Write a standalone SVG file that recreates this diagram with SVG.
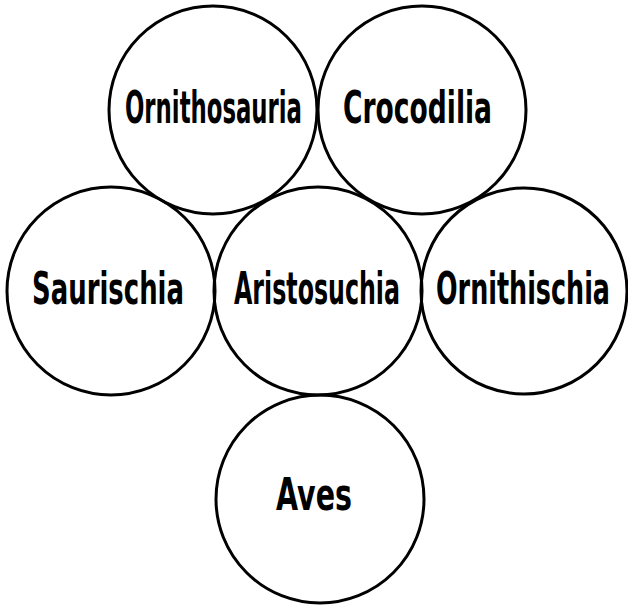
<svg xmlns="http://www.w3.org/2000/svg" width="628" height="605" viewBox="0 0 628 605">
<style>
.n circle{fill:none;stroke:#000;stroke-width:3}
.n text{font-family:"DejaVu Sans",sans-serif;font-size:45px;font-weight:bold;fill:#000}
</style>
<rect width="628" height="605" fill="#fff"/>
<g id="connectors"/>
<g id="ornithosauria" class="n"><circle cx="213" cy="110" r="104"/><text x="125" y="123" textLength="177" lengthAdjust="spacingAndGlyphs">Ornithosauria</text></g>
<g id="crocodilia" class="n"><circle cx="422" cy="110" r="104"/><text x="343" y="123" textLength="149" lengthAdjust="spacingAndGlyphs">Crocodilia</text></g>
<g id="saurischia" class="n"><circle cx="111" cy="291" r="104"/><text x="32" y="304" textLength="152" lengthAdjust="spacingAndGlyphs">Saurischia</text></g>
<g id="aristosuchia" class="n"><circle cx="318" cy="291" r="104"/><text x="234" y="304" textLength="166" lengthAdjust="spacingAndGlyphs">Aristosuchia</text></g>
<g id="ornithischia" class="n"><circle cx="524" cy="291" r="103"/><text x="436" y="304" textLength="174" lengthAdjust="spacingAndGlyphs">Ornithischia</text></g>
<g id="aves" class="n"><circle cx="320" cy="499" r="104"/><text x="276" y="510" textLength="76" lengthAdjust="spacingAndGlyphs">Aves</text></g>
</svg>
